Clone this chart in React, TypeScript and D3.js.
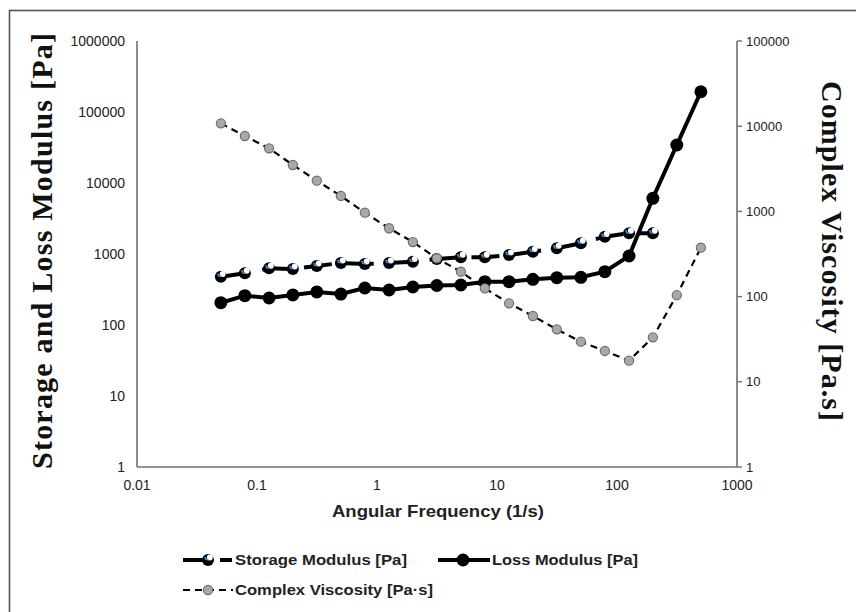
import React from "react";
import * as d3 from "d3";

// Angular frequency sweep (1/s), five points per decade
const frequency = [
  0.05, 0.0792, 0.126, 0.199, 0.315, 0.5, 0.792, 1.26, 1.99, 3.15, 5, 7.92,
  12.6, 19.9, 31.5, 50, 79.2, 126, 199, 315, 500,
];

// Storage modulus G' [Pa] (measured up to 199 1/s)
const storageModulus = [
  479, 535, 629, 615, 678, 747, 723, 747, 779, 851, 899, 899, 968, 1077, 1203,
  1415, 1753, 1958, 1958,
];

// Loss modulus G'' [Pa]
const lossModulus = [
  206, 259, 240, 265, 292, 273, 332, 311, 343, 360, 366, 407, 407, 440, 464,
  470, 563, 937, 6090, 34300, 193000,
];

// Complex viscosity |eta*| [Pa.s]
const complexViscosity = [
  10800, 7670, 5500, 3505, 2292, 1517, 966, 634, 437, 282, 196, 125, 83.4,
  59.2, 41.3, 29.6, 23.0, 17.7, 33.3, 104, 375,
];

const xTicks = [0.01, 0.1, 1, 10, 100, 1000];
const xTickLabels = ["0.01", "0.1", "1", "10", "100", "1000"];
const leftTicks = [1, 10, 100, 1000, 10000, 100000, 1000000];
const leftTickLabels = ["1", "10", "100", "1000", "10000", "100000", "1000000"];
const rightTicks = [1, 10, 100, 1000, 10000, 100000];
const rightTickLabels = ["1", "10", "100", "1000", "10000", "100000"];

const legendLabels = [
  "Storage Modulus [Pa]",
  "Loss Modulus [Pa]",
  "Complex Viscosity [Pa\u00b7s]",
];

const W = 856;
const H = 612;
const plot = { left: 137, right: 737, top: 41, bottom: 467 };

const axisColor = "#707070";
const sans = "'Liberation Sans', Arial, sans-serif";
const serif = "'Liberation Serif', 'Times New Roman', serif";

function StorageMarker({ x, y }: { x: number; y: number }) {
  return (
    <g transform={`translate(${x},${y})`}>
      <circle r={6} fill="#000" />
      <circle cx={1.8} cy={-2.6} r={3} fill="#fff" />
      <path d="M-3.2,-3.2 L-2.2,-0.6 L0.4,-0.2" stroke="#3d8fd6" strokeWidth={1.6} fill="none" />
    </g>
  );
}

function LossMarker({ x, y }: { x: number; y: number }) {
  return <circle cx={x} cy={y} r={6.5} fill="#000" />;
}

function ViscMarker({ x, y }: { x: number; y: number }) {
  return <circle cx={x} cy={y} r={4.6} fill="#a8a8a8" stroke="#6a6a6a" strokeWidth={1.1} />;
}

export default function App() {
  const x = d3.scaleLog().domain([0.01, 1000]).range([plot.left, plot.right]);
  const yL = d3.scaleLog().domain([1, 1000000]).range([plot.bottom, plot.top]);
  const yR = d3.scaleLog().domain([1, 100000]).range([plot.bottom, plot.top]);

  const storagePts = storageModulus.map((v, i) => [x(frequency[i]), yL(v)] as [number, number]);
  const lossPts = lossModulus.map((v, i) => [x(frequency[i]), yL(v)] as [number, number]);
  const viscPts = complexViscosity.map((v, i) => [x(frequency[i]), yR(v)] as [number, number]);

  const line = d3.line<[number, number]>();

  return (
    <svg
      width={W}
      height={H}
      style={{ position: "absolute", left: 0, top: 0, background: "#fff" }}
    >
      {/* outer frame */}
      <rect x={9.5} y={10.5} width={900} height={700} fill="none" stroke="#555" strokeWidth={1.6} />

      {/* axes */}
      <line x1={plot.left} x2={plot.left} y1={plot.top} y2={plot.bottom} stroke={axisColor} strokeWidth={1.6} />
      <line x1={plot.left} x2={plot.right} y1={plot.bottom} y2={plot.bottom} stroke={axisColor} strokeWidth={1.6} />
      <line x1={plot.right} x2={plot.right} y1={plot.top} y2={plot.bottom} stroke={axisColor} strokeWidth={1.6} />

      {/* left tick labels */}
      {leftTicks.map((t, i) => (
        <text key={`l${t}`} x={plot.left - 12} y={yL(t)} dy="0.35em" textAnchor="end" fontFamily={sans} fontSize={14} fill="#222">
          {leftTickLabels[i]}
        </text>
      ))}

      {/* right ticks + labels */}
      {rightTicks.map((t, i) => (
        <g key={`r${t}`}>
          <line x1={plot.right} x2={plot.right + 5} y1={yR(t)} y2={yR(t)} stroke={axisColor} strokeWidth={1.4} />
          <text x={plot.right + 9} y={yR(t)} dy="0.35em" textAnchor="start" fontFamily={sans} fontSize={13} fill="#222">
            {rightTickLabels[i]}
          </text>
        </g>
      ))}

      {/* x tick labels */}
      {xTicks.map((t, i) => (
        <text key={`x${t}`} x={x(t)} y={plot.bottom + 23} textAnchor="middle" fontFamily={sans} fontSize={14} fill="#222">
          {xTickLabels[i]}
        </text>
      ))}

      {/* axis titles */}
      <text
        x={438}
        y={517}
        textAnchor="middle"
        fontFamily={sans}
        fontSize={17}
        fontWeight="bold"
        fill="#222"
        textLength={212}
        lengthAdjust="spacingAndGlyphs"
      >
        Angular Frequency (1/s)
      </text>
      <text
        transform="translate(52,251) rotate(-90)"
        textAnchor="middle"
        fontFamily={serif}
        fontSize={30}
        fontWeight="bold"
        fill="#111"
        textLength={436}
        lengthAdjust="spacing"
      >
        Storage and Loss Modulus [Pa]
      </text>
      <text
        transform="translate(822,251) rotate(90)"
        textAnchor="middle"
        fontFamily={serif}
        fontSize={30}
        fontWeight="bold"
        fill="#111"
        textLength={340}
        lengthAdjust="spacing"
      >
        Complex Viscosity [Pa.s]
      </text>

      {/* storage modulus */}
      <path d={line(storagePts) || ""} fill="none" stroke="#000" strokeWidth={4} strokeDasharray="28 14" />
      {storagePts.map(([px, py], i) => (
        <StorageMarker key={`s${i}`} x={px} y={py} />
      ))}

      {/* loss modulus */}
      <path d={line(lossPts) || ""} fill="none" stroke="#000" strokeWidth={4} />
      {lossPts.map(([px, py], i) => (
        <LossMarker key={`g${i}`} x={px} y={py} />
      ))}

      {/* complex viscosity */}
      <path d={line(viscPts) || ""} fill="none" stroke="#000" strokeWidth={2.2} strokeDasharray="7 5" />
      {viscPts.map(([px, py], i) => (
        <ViscMarker key={`v${i}`} x={px} y={py} />
      ))}

      {/* legend */}
      <g fontFamily={sans} fontSize={15} fontWeight="bold" fill="#222">
        <line x1={183} x2={205} y1={560} y2={560} stroke="#000" strokeWidth={4} />
        <line x1={220} x2={232} y1={560} y2={560} stroke="#000" strokeWidth={4} />
        <StorageMarker x={208} y={560} />
        <text x={235} y={560} dy="0.35em" textLength={172} lengthAdjust="spacingAndGlyphs">{legendLabels[0]}</text>

        <line x1={438} x2={490} y1={560} y2={560} stroke="#000" strokeWidth={4} />
        <LossMarker x={463} y={560} />
        <text x={492} y={560} dy="0.35em" textLength={146} lengthAdjust="spacingAndGlyphs">{legendLabels[1]}</text>

        <line x1={183} x2={233} y1={590} y2={590} stroke="#000" strokeWidth={2.2} strokeDasharray="7 5" />
        <ViscMarker x={208} y={590} />
        <text x={235} y={590} dy="0.35em" textLength={198} lengthAdjust="spacingAndGlyphs">{legendLabels[2]}</text>
      </g>
    </svg>
  );
}
